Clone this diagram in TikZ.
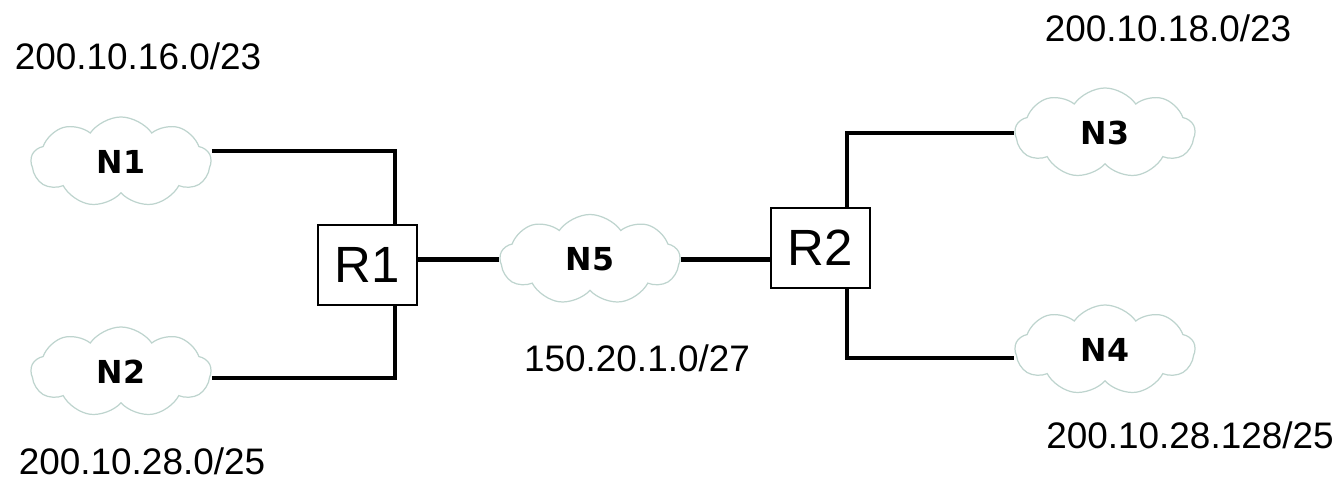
\documentclass[tikz,border=0pt]{standalone}
\usepackage{fontspec}
\setmainfont{Liberation Sans}
\newfontfamily\netfont{DejaVu Sans}
\usetikzlibrary{shapes.symbols}

\begin{document}
\begin{tikzpicture}[
    net/.style={cloud,cloud puffs=9,cloud puff arc=110,aspect=2,draw={rgb,255:red,190;green,212;blue,206},
      line width=0.7pt,minimum width=3.6cm,minimum height=1.8cm,inner sep=0pt,font=\netfont\bfseries\fontsize{18}{20}\selectfont},
    router/.style={draw,line width=1pt,minimum width=1.98cm,minimum height=1.6cm,font=\fontsize{29}{31}\selectfont},
    addr/.style={font=\fontsize{21}{24}\selectfont},
    link/.style={line width=2.3pt}]
  \useasboundingbox (0,0) rectangle (26.82,9.64);
  \node[net] (N1) at (2.42,6.40) {N1};
  \node[net] (N2) at (2.42,2.20) {N2};
  \node[net] (N5) at (11.80,4.45) {N5};
  \node[net] (N3) at (22.10,6.98) {N3};
  \node[net] (N4) at (22.10,2.64) {N4};
  \node[router] (R1) at (7.35,4.34) {R1};
  \node[router] (R2) at (16.41,4.68) {R2};
  \node[addr] (a1) at (2.76,8.52) {200.10.16.0/23};
  \node[addr] (a2) at (2.84,0.42) {200.10.28.0/25};
  \node[addr] (a5) at (12.74,2.48) {150.20.1.0/27};
  \node[addr] (a3) at (23.36,9.08) {200.10.18.0/23};
  \node[addr] (a4) at (23.80,0.94) {200.10.28.128/25};
  \draw[link] ([yshift=0.22cm]N1.east) -| ([xshift=0.55cm]R1.north);
  \draw[link] ([yshift=-0.12cm]N2.east) -| ([xshift=0.55cm]R1.south);
  \draw[link] (N5.west) -- (N5.west -| R1.east);
  \draw[link] (N5.east) -- (N5.east -| R2.west);
  \draw[link] ([xshift=0.53cm]R2.north) |- (N3.west);
  \draw[link] ([xshift=0.53cm]R2.south) |- ([yshift=-0.16cm]N4.west);
\end{tikzpicture}
\end{document}
